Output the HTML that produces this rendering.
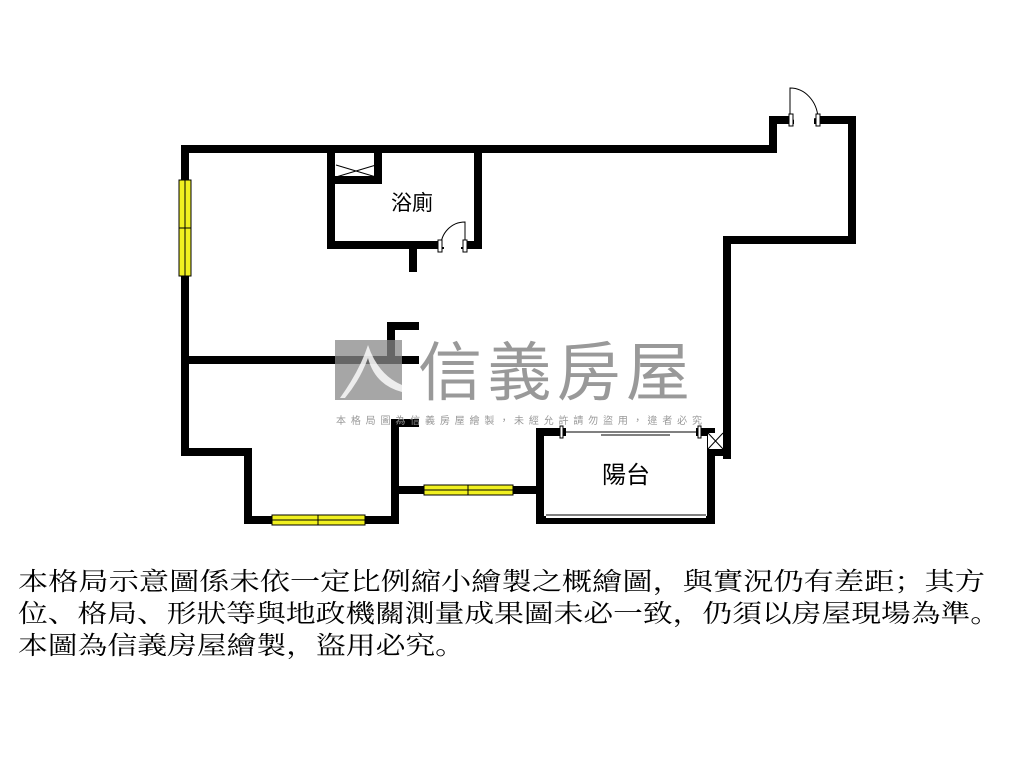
<!DOCTYPE html>
<html><head><meta charset="utf-8"><style>
body{margin:0;width:1024px;height:768px;background:#fff;overflow:hidden;font-family:"Liberation Serif","Noto Serif CJK SC",serif}
</style></head><body>
<svg width="1024" height="768" style="position:absolute;left:0;top:0">
<g stroke="#000" stroke-width="8" fill="none" stroke-linecap="square">
<polyline points="185,149 773,149 773,120 790,120"/>
<polyline points="818,120 852,120 852,240 727,240 727,455"/>
<polyline points="185,149 185,452 248,452 248,520 395,520 395,423 415,423"/>
<polyline points="185,360 415,360"/>
<polyline points="391,360 391,326 415,326"/>
<polyline points="395,490 540,490"/>
<polyline points="331,149 331,245 440,245"/>
<polyline points="465,245 478,245 478,149"/>
<line x1="413" y1="245" x2="413" y2="268"/>
<polyline points="562,432 540,432 540,520 711,520 711,432 700,432"/>
<line x1="711" y1="452" x2="727" y2="452"/>
<polyline points="333,180 378,180 378,150"/>
</g>
<rect x="546" y="513" width="160" height="5" fill="#fff"/>
<line x1="546" y1="515" x2="706" y2="515" stroke="#000" stroke-width="1"/>
<line x1="601" y1="432" x2="670" y2="432" stroke="#000" stroke-width="1"/>
<line x1="601" y1="435" x2="670" y2="435" stroke="#000" stroke-width="1"/>
<line x1="562" y1="432" x2="700" y2="432" stroke="#000" stroke-width="1"/>
<rect x="708" y="433" width="15" height="16" fill="#fff"/>
<g stroke="#000" stroke-width="1">
<line x1="336" y1="165" x2="376" y2="177"/><line x1="336" y1="177" x2="376" y2="165"/>
<line x1="708" y1="433" x2="723" y2="449"/><line x1="723" y1="433" x2="708" y2="449"/>
</g>
<g fill="#fff" stroke="#000" stroke-width="1">
<path d="M441,247 A24,24 0 0 1 465,222 L465,247"/>
<path d="M790,120 L790,88 A28,32 0 0 1 818,118"/>
<rect x="438" y="240" width="4" height="12"/><rect x="463" y="240" width="4" height="12"/>
<rect x="789" y="114" width="4" height="12"/><rect x="816" y="114" width="4" height="12"/>
<rect x="560" y="426" width="3" height="12"/><rect x="698" y="426" width="3" height="12"/>
</g>
<g stroke="#000" stroke-width="1" fill="#f0f020">
<rect x="179" y="180" width="12" height="96"/>
<rect x="272" y="515" width="93" height="10"/>
<rect x="424" y="485" width="89" height="10"/>
</g>
<g stroke="#000" stroke-width="1">
<line x1="185" y1="180" x2="185" y2="276"/><line x1="179" y1="228" x2="191" y2="228"/>
<line x1="272" y1="520" x2="365" y2="520"/><line x1="318" y1="515" x2="318" y2="525"/>
<line x1="424" y1="490" x2="513" y2="490"/><line x1="468" y1="485" x2="468" y2="495"/>
</g>
<rect x="335" y="340" width="67" height="60" fill="#888" opacity="0.75"/>
<path d="M340,398 Q360,370 368,345 Q378,375 402,385 L402,392 Q375,385 368,358 Q360,380 345,398Z" fill="#fff" opacity="0.8"/>
<text x="418" y="395" font-family="Liberation Sans,'Noto Sans CJK TC',sans-serif" font-size="64" fill="#888" opacity="0.85" textLength="272">信義房屋</text>
<text x="336" y="424" font-family="Liberation Sans,'Noto Sans CJK TC',sans-serif" font-size="10" fill="#999" textLength="366">本格局圖為信義房屋繪製，未經允許請勿盜用，違者必究</text>
<text x="391" y="210" font-size="21" font-family="'Liberation Sans','Noto Sans CJK TC',sans-serif">浴廁</text>
<text x="602" y="483" font-size="24" font-family="'Liberation Sans','Noto Sans CJK TC',sans-serif">陽台</text>
<g font-size="25" font-family="'Noto Serif CJK SC','Noto Sans CJK TC',serif" fill="#000">
<text x="18" y="590" textLength="967" lengthAdjust="spacingAndGlyphs">本格局示意圖係未依一定比例縮小繪製之概繪圖，與實況仍有差距；其方</text>
<text x="18" y="622" textLength="982" lengthAdjust="spacingAndGlyphs">位、格局、形狀等與地政機關測量成果圖未必一致，仍須以房屋現場為準。</text>
<text x="18" y="654" textLength="447" lengthAdjust="spacingAndGlyphs">本圖為信義房屋繪製，盜用必究。</text>
</g>
</svg>
</body></html>
